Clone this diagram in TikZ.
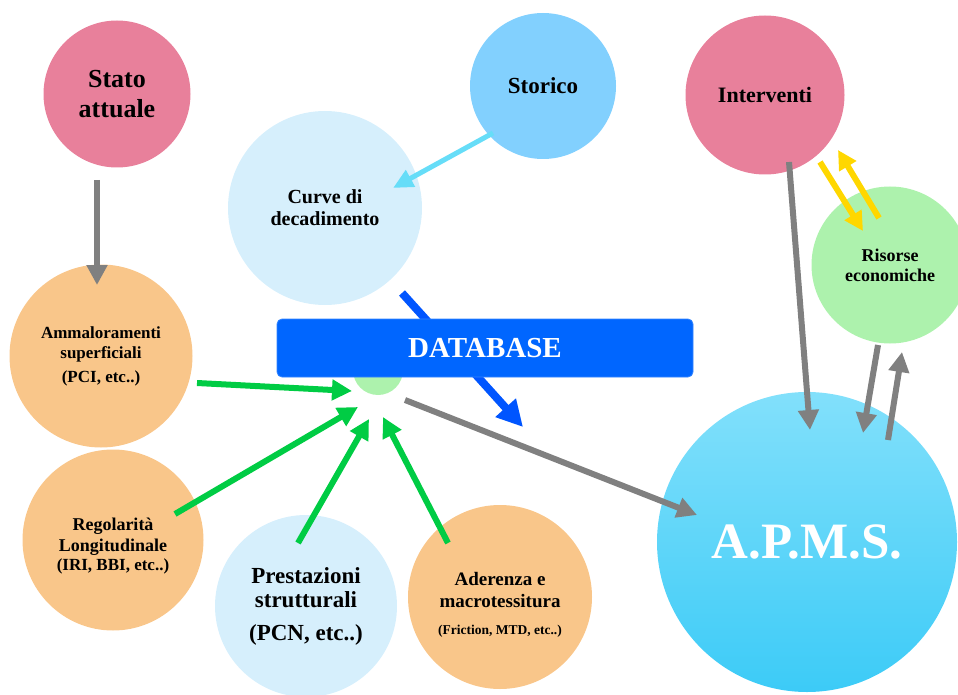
\documentclass[tikz,border=0pt]{standalone}
\usepackage{fontspec}
\setmainfont{Liberation Serif}
\usetikzlibrary{arrows.meta,shadings}

\definecolor{pinkc}{HTML}{E8809B}
\definecolor{skyc}{HTML}{82D0FE}
\definecolor{paleblue}{HTML}{D6EFFC}
\definecolor{peach}{HTML}{F9C68A}
\definecolor{mint}{HTML}{ADF2AD}
\definecolor{dbblue}{HTML}{0066FF}
\definecolor{arrowgray}{HTML}{808080}
\definecolor{arrowgreen}{HTML}{00CC44}
\definecolor{arrowyellow}{HTML}{FFD700}
\definecolor{arrowcyan}{HTML}{66DDF8}
\definecolor{arrowblue}{HTML}{0055FF}
\definecolor{apmstop}{HTML}{82E0FB}
\definecolor{apmsbottom}{HTML}{3CCBF7}

\tikzset{
  bubble/.style={circle, draw=none, inner sep=0pt, align=center,
    font=\bfseries, text=black},
  lowtext/.style={label={[align=center, yshift=#1, text=black]center:}},
  flow/.style={line width=6pt, -{Triangle[length=20pt,width=20pt]}},
  grayflow/.style={flow, draw=arrowgray},
  greenflow/.style={flow, draw=arrowgreen},
  yellowflow/.style={line width=6pt, draw=arrowyellow,
    -{Triangle[length=19pt,width=19pt]}},
}

\newcommand{\fs}[1]{\fontsize{#1}{#1}\selectfont}

\begin{document}
\begin{tikzpicture}[x=1pt,y=-1pt]
\useasboundingbox (0,0) rectangle (958,695);

% input and side bubbles
\node[bubble, fill=pinkc, minimum size=147pt, font=\bfseries\fs{26}]
  (stato) at (117,94) {Stato\\[4pt]attuale};
\node[bubble, fill=skyc, minimum size=146pt, font=\bfseries\fs{23}]
  (storico) at (543,86) {Storico};
\node[bubble, fill=paleblue, minimum size=194pt, font=\bfseries\fs{20}]
  (curve) at (325,208) {Curve di\\[2pt]decadimento};
\node[bubble, fill=pinkc, minimum size=159pt, font=\bfseries\fs{22}]
  (interv) at (765,95) {Interventi};
\node[bubble, fill=mint, minimum size=157pt, font=\bfseries\fs{18}]
  (risorse) at (890,265) {Risorse\\[2pt]economiche};

% measurement bubbles
\node[bubble, fill=peach, minimum size=183pt, font=\bfseries\fs{17}]
  (ammal) at (101,356) {Ammaloramenti\\[3pt]superficiali\\[7pt]{\fs{17}(PCI, etc..)}};
\node[bubble, fill=peach, minimum size=181pt] (regol) at (113,540) {};
\node[bubble, font=\bfseries\fs{18}] (regoltext) at ([yshift=-6pt]regol.center)
  {Regolarità\\[3pt]Longitudinale\\[1pt]{\fs{17}(IRI, BBI, etc..)}};
\node[bubble, fill=paleblue, minimum size=182pt, font=\bfseries\fs{23}]
  (prest) at (306,606) {Prestazioni\\[1pt]strutturali\\[10pt](PCN, etc..)};
\node[bubble, fill=peach, minimum size=184pt] (ader) at (500,597) {};
\node[bubble, font=\bfseries\fs{19}] (adertext) at ([yshift=-8pt]ader.center)
  {Aderenza e\\[3pt]macrotessitura\\[8pt]{\fs{13.5}(Friction, MTD, etc..)}};

% hub behind the database banner
\node[circle, fill=mint, minimum size=50pt, inner sep=0pt] (hub) at (378,370) {};

% A.P.M.S. bubble
\node[circle, inner sep=0pt, minimum size=300pt, top color=apmstop,
  bottom color=apmsbottom, text=white,
  font=\bfseries\fs{51}] (apms) at (807,542) {A.P.M.S.};

% connectors
\draw[grayflow] ([shift={(-20,86)}]stato.center) -- ([shift={(-4,-71)}]ammal.center);
\draw[line width=5pt, draw=arrowcyan, -{Triangle[length=20pt,width=18pt]}]
  ([shift={(-50,47)}]storico.center) -- ([shift={(68,-20)}]curve.center);
\draw[line width=8pt, draw=arrowblue, -{Triangle[length=26pt,width=26pt]}]
  ([shift={(77,85)}]curve.center) -- ([shift={(145,57)}]hub.center);

\draw[greenflow] ([shift={(96,27)}]ammal.center) -- ([shift={(-26,21)}]hub.center);
\draw[greenflow] ([shift={(62,-26)}]regol.center) -- ([shift={(-20,37)}]hub.center);
\draw[greenflow] ([shift={(-8,-63)}]prest.center) -- ([shift={(-9,49)}]hub.center);
\draw[greenflow] ([shift={(-52,-54)}]ader.center) -- ([shift={(5,47)}]hub.center);

\draw[grayflow] ([shift={(27,30)}]hub.center) -- ([shift={(-110,-27)}]apms.center);
\draw[grayflow] ([shift={(24,67)}]interv.center) -- ([shift={(3,-112)}]apms.center);
\draw[grayflow] ([shift={(-12,80)}]risorse.center) -- ([shift={(56,-109)}]apms.center);
\draw[grayflow] ([shift={(81,-102)}]apms.center) -- ([shift={(12,87)}]risorse.center);

\draw[yellowflow] ([shift={(55,67)}]interv.center) -- ([shift={(-27,-34)}]risorse.center);
\draw[yellowflow] ([shift={(-11,-47)}]risorse.center) -- ([shift={(73,55)}]interv.center);

% database banner
\node[rounded corners=5pt, fill=dbblue, draw=dbblue!80!white, line width=0.8pt,
  minimum width=416pt, minimum height=58pt, text=white,
  font=\bfseries\fs{29}] (db) at (485,348) {DATABASE};
\end{tikzpicture}
\end{document}
